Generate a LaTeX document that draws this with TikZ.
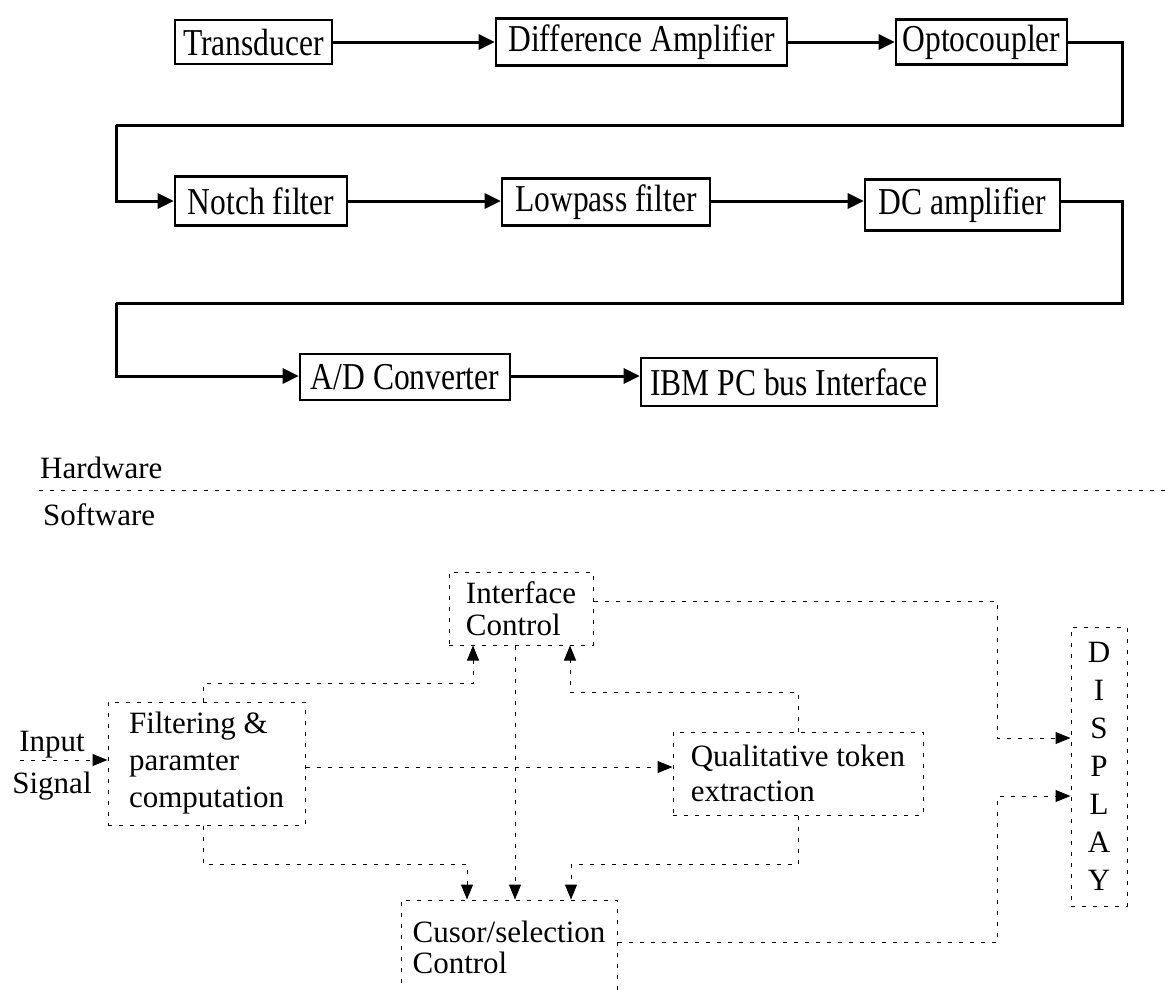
\documentclass[tikz,border=0pt]{standalone}
\usepackage{fontspec}
\setmainfont{Liberation Serif}
\usetikzlibrary{arrows.meta}
\newcommand\swf{\fontsize{31}{35}\selectfont}
\newcommand\hwf{\fontsize{38}{42}\selectfont}
\newcommand\hwt[1]{\scalebox{0.83}[1]{#1}}
\tikzset{
  hwbox/.style={draw, line width=2.6pt, inner sep=0pt, font=\hwf},
  hwline/.style={line width=3pt, -{Triangle[length=16pt,width=15pt]}},
  hwwire/.style={line width=3pt},
  swbox/.style={draw, line width=1pt, dash pattern=on 4pt off 7pt, inner sep=0pt, font=\swf, align=left},
  swline/.style={line width=1pt, dash pattern=on 4pt off 7pt, -{Triangle[length=15pt,width=12pt]}},
  swwire/.style={line width=1pt, dash pattern=on 4pt off 7pt},
  lbl/.style={inner sep=0pt, font=\swf}
}
\begin{document}
\begin{tikzpicture}[x=1pt,y=-1pt]
\useasboundingbox (0,0) rectangle (1172,989);
% ---------------- Hardware ----------------
\node[hwbox, minimum width=157pt, minimum height=44pt] (trans) at (253.5,42) {\hwt{Transducer}};
\node[hwbox, minimum width=291pt, minimum height=47pt] (diff) at (641.5,42) {\hwt{Difference Amplifier}};
\node[hwbox, minimum width=171pt, minimum height=45pt] (opto) at (981.5,42) {\hwt{Optocoupler}};
\node[hwbox, minimum width=172pt, minimum height=49pt] (notch) at (261,201) {\hwt{Notch filter}};
\node[hwbox, minimum width=208pt, minimum height=47pt] (low) at (606,202) {\hwt{Lowpass filter}};
\node[hwbox, minimum width=195pt, minimum height=51pt] (dc) at (962.5,205) {\hwt{DC amplifier}};
\node[hwbox, minimum width=210pt, minimum height=46pt] (ad) at (405,377) {\hwt{A/D Converter}};
\node[hwbox, minimum width=296pt, minimum height=48pt] (ibm) at (789,382) {\hwt{IBM PC bus Interface}};

\coordinate (w1) at (1122,125);
\coordinate (w2) at (116,125);
\coordinate (w3) at (1122,303);
\coordinate (w4) at (116,303);
\coordinate (r2) at (0,201);
\coordinate (r3) at (0,376);

\draw[hwline] (trans) -- (diff);
\draw[hwline] (diff) -- (opto);
\draw[hwwire] (opto.east) -| (w1) -- (w2);
\draw[hwline] (w2) |- (notch.west);
\draw[hwline] (notch.east |- r2) -- (low.west |- r2);
\draw[hwline] (low.east |- r2) -- (dc.west |- r2);
\draw[hwwire] (dc.east |- r2) -| (w3) -- (w4);
\draw[hwline] (w4) |- (ad.west |- r3);
\draw[hwline] (ad.east |- r3) -- (ibm.west |- r3);

% ---------------- Separator ----------------
\node[lbl, anchor=west] (hwlabel) at (40,468) {Hardware};
\node[lbl, anchor=west] (swlabel) at (43,515) {Software};
\coordinate (sepL) at (39,490);
\coordinate (sepR) at (1172,490);
\draw[swwire] (sepL) -- (sepR);

% ---------------- Software ----------------
\node[swbox, minimum width=144pt, minimum height=73pt] (intf) at (521,608.5) {Interface\\[-3pt]Control};
\node[swbox, minimum width=197pt, minimum height=123pt] (filt) at (206.5,763.5) {Filtering \&\\[2pt]paramter\\[2pt]computation};
\node[swbox, minimum width=250pt, minimum height=83pt] (qual) at (798,773.5) {Qualitative token\\[0pt]extraction};
\node[swbox, minimum width=216pt, minimum height=94pt] (curs) at (509,947) {Cusor/selection\\[-4pt]Control};
\node[swbox, minimum width=56pt, minimum height=279pt, align=center] (display) at (1099,766.5)
  {D\\[3pt]I\\[3pt]S\\[3pt]P\\[3pt]L\\[3pt]A\\[3pt]Y};
\node[lbl, align=center] (insig) at (52,766) {Input\\[7pt]Signal};

\coordinate (inS) at (20,760);
\coordinate (a1) at (203,683);
\coordinate (a2) at (473,683);
\coordinate (b1) at (798,692);
\coordinate (b2) at (570,692);
\coordinate (c1) at (515,0);
\coordinate (d1) at (467,864);
\coordinate (e1) at (571,864);
\coordinate (f1) at (997,601);
\coordinate (f2) at (997,738);
\coordinate (g1) at (997,942);
\coordinate (g2) at (997,796);
\coordinate (h1) at (0,767);

\draw[swline] (inS) -- (inS -| filt.west);
\draw[swline] (filt.east |- h1) -- (qual.west |- h1);
\draw[swline] (filt.north -| a1) |- (a2) -- (intf.south -| a2);
\draw[swline] (qual.north -| b1) |- (b2) -- (intf.south -| b2);
\draw[swline] (intf.south -| c1) -- (curs.north -| c1);
\draw[swline] (filt.south -| a1) |- (d1) -- (curs.north -| d1);
\draw[swline] (qual.south -| b1) |- (e1) -- (curs.north -| e1);
\draw[swline] (intf.east |- f1) -| (f2) -- (display.west |- f2);
\draw[swline] (curs.east |- g1) -| (g2) -- (display.west |- g2);
\end{tikzpicture}
\end{document}
